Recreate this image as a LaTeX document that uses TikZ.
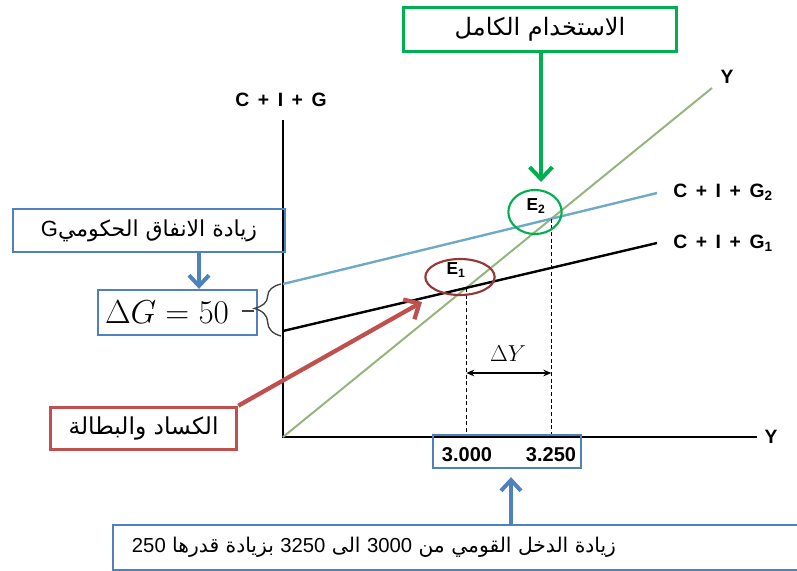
\documentclass[tikz,border=0pt]{standalone}
\usepackage{fontspec}
\setmainfont{Liberation Sans}
\newfontfamily\arabicfont[Script=Arabic]{DejaVu Sans}
\TeXXeTstate=1
\usetikzlibrary{arrows.meta,intersections,decorations.pathreplacing,shapes.geometric,calc}
\definecolor{boxblue}{RGB}{79,129,189}
\definecolor{okgreen}{RGB}{0,176,80}
\definecolor{boxred}{RGB}{192,80,77}
\definecolor{darkred}{RGB}{150,55,53}
\definecolor{ylinegreen}{RGB}{150,180,125}
\definecolor{lightblueline}{RGB}{110,170,200}
\tikzset{
  axisline/.style={line width=1.6pt, black},
  lbl/.style={font=\fontsize{14.5}{17}\selectfont\bfseries, inner sep=0pt},
  elbl/.style={font=\fontsize{13}{15}\selectfont\bfseries, inner sep=0pt},
  arab/.style={font=\arabicfont\fontsize{17}{20}\selectfont, inner sep=0pt},
  bluebox/.style={draw=boxblue, line width=1.5pt, inner sep=0pt},
  bluearrow/.style={draw=boxblue, line width=3pt, -{Straight Barb[length=8pt,width=15pt]}},
  guide/.style={black, line width=0.9pt, dash pattern=on 3pt off 2pt},
  ticklbl/.style={font=\fontsize{15}{17}\selectfont\bfseries, inner sep=0pt},
}
\begin{document}
\begin{tikzpicture}[x=0.75pt,y=-0.75pt]
\useasboundingbox (0,0) rectangle (797,571);
% axes
\coordinate (O) at (283,437);
\coordinate (ytop) at (283,120);
\coordinate (xend) at (757,437);
\draw[axisline] (ytop) -- (O) -- (xend);
\node[lbl] (cig) at (281,100) {C\, + \,I\, + \,G};
\node[lbl] (yx) at (771,437) {Y};
% lines
\coordinate (ys) at (283,437);
\coordinate (ye) at (712,88);
\coordinate (b1s) at (283,331);
\coordinate (b1e) at (657,243);
\coordinate (b2s) at (283,284);
\coordinate (b2e) at (657,193);
\draw[name path=yl, ylinegreen, line width=1.5pt] (ys) -- (ye);
\draw[name path=l1, black, line width=1.8pt] (b1s) -- (b1e);
\draw[name path=l2, lightblueline, line width=1.8pt] (b2s) -- (b2e);
\node[lbl] (yl45) at (727,77) {Y};
\node[lbl, anchor=west] (g2l) at (673,192) {C\, + \,I\, + \,G\textsubscript{2}};
\node[lbl, anchor=west] (g1l) at (673,243) {C\, + \,I\, + \,G\textsubscript{1}};
% intersections
\path[name intersections={of=yl and l1, by=E1}];
\path[name intersections={of=yl and l2, by=E2}];
\draw[guide] (E1) -- (E1 |- O);
\draw[guide] (E2) -- (E2 |- O);
% Delta Y
\coordinate (dy) at (0,373);
\draw[black, line width=1.1pt, {Stealth[length=6pt,width=5pt]}-{Stealth[length=6pt,width=5pt]}] (E1 |- dy) -- (E2 |- dy);
\node[font=\fontsize{19}{21}\selectfont, inner sep=0pt] (dyl) at (508,354) {$\Delta Y$};
% E circles
\node[ellipse, draw=darkred, line width=1.6pt, minimum width=52pt, minimum height=27pt, inner sep=0pt] (e1c) at (460,277) {};
\node[elbl] (e1l) at (456,270) {E\textsubscript{1}};
\node[ellipse, draw=okgreen, line width=1.6pt, minimum width=40pt, minimum height=33pt, inner sep=0pt] (e2c) at (535,212) {};
\node[elbl] (e2l) at (536,206) {E\textsubscript{2}};
% green box
\node[draw=okgreen, line width=2pt, minimum width=205pt, minimum height=33pt, arab, font=\arabicfont\fontsize{18}{20}\selectfont] (gbox) at (540,29.5) {\arabicfont\beginR الاستخدام الكامل\endR};
\coordinate (gtip) at (541,182);
\draw[okgreen, line width=3pt, -{Straight Barb[length=9pt,width=17pt]}] (gbox.south -| gtip) -- (gtip);
% left box
\node[bluebox, minimum width=204pt, minimum height=32pt, arab, font=\arabicfont\fontsize{16.5}{20}\selectfont] (lbox) at (149,230.5) {\arabicfont\beginR زيادة الانفاق الحكومي\beginL{\rmfamily G}\endL\endR};
\node[bluebox, minimum width=119pt, minimum height=34pt] (dgbox) at (177.5,312.5) {};
\node[font=\fontsize{23}{26}\selectfont, inner sep=0pt] (dgl) at (167,312) {$\Delta G = 50$};
\draw[bluearrow] (lbox.south -| 199,0) -- (dgbox.north -| 199,0);
% brace
\draw[black!75, line width=1pt, decorate, decoration={brace, amplitude=20pt, aspect=0.53}] (281,336) -- (281,284);
\coordinate (btip) at (254,311);
\draw[black!75, line width=1pt] (btip) -- ++(-12,0);
% red box
\node[draw=boxred, line width=2.2pt, minimum width=140pt, minimum height=32pt, arab, font=\arabicfont\fontsize{17.5}{20}\selectfont] (rbox) at (143.5,428.5) {\arabicfont\beginR الكساد والبطالة\endR};
\coordinate (rtip) at (422,302);
\draw[boxred, line width=3.2pt, -{Straight Barb[length=9pt,width=17pt]}] (rbox.north east) -- (rtip);
% tick box
\node[ticklbl] (t1) at (467,455) {3.000};
\node[ticklbl] (t2) at (551,455) {3.250};
\node[bluebox, minimum width=111pt, minimum height=25pt] (tbox) at (506.5,451.5) {};
% bottom box
\node[bluebox, minimum width=519pt, minimum height=34pt] (bbox) at (459,547.5) {};
\node[arab, font=\arabicfont\fontsize{15.2}{18}\selectfont] (btxt) at (374,547) {\arabicfont\beginR زيادة الدخل القومي من \beginL{\rmfamily 3000}\endL{} الى \beginL{\rmfamily 3250}\endL{} بزيادة قدرها \beginL{\rmfamily 250}\endL\endR};
\draw[bluearrow, shorten >=6pt] (bbox.north -| 511,0) -- (tbox.south -| 511,0);
\end{tikzpicture}
\end{document}
